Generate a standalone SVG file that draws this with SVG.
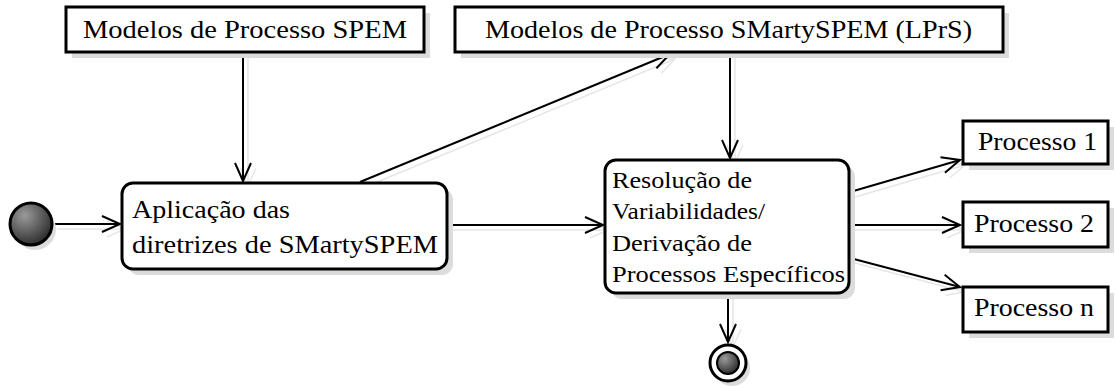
<svg xmlns="http://www.w3.org/2000/svg" width="1115" height="387" viewBox="0 0 1115 387">
<defs>
<style>
.box{fill:#fff;stroke:#000;stroke-width:3}
.sh{fill:#dcdcdc;stroke:none}
.t{font-family:'Liberation Serif','Times New Roman',Times,serif;fill:#000}
.c{fill:none;stroke:#000;stroke-width:2}
.cs{fill:none;stroke:#e6e6e6;stroke-width:1.5}
</style>
<marker id="ah" markerWidth="24" markerHeight="24" refX="20" refY="10" orient="auto" markerUnits="userSpaceOnUse">
<path d="M2,2 L20,10 L2,18" fill="none" stroke="#000" stroke-width="2"/>
</marker>
<marker id="ahs" markerWidth="24" markerHeight="24" refX="20" refY="10" orient="auto" markerUnits="userSpaceOnUse">
<path d="M2,2 L20,10 L2,18" fill="none" stroke="#e6e6e6" stroke-width="1.5"/>
</marker>
<radialGradient id="g" cx="0.35" cy="0.3" r="0.75">
<stop offset="0" stop-color="#9a9a9a"/>
<stop offset="1" stop-color="#2a2a2a"/>
</radialGradient>
</defs>

<g id="connectors">
<g transform="translate(5,5)">
<line class="cs" x1="52" y1="224" x2="120" y2="224" marker-end="url(#ahs)"/>
<line class="cs" x1="243" y1="53" x2="243" y2="181" marker-end="url(#ahs)"/>
<line class="cs" x1="360" y1="182" x2="670" y2="54" marker-end="url(#ahs)"/>
<line class="cs" x1="730" y1="53" x2="730" y2="158" marker-end="url(#ahs)"/>
<line class="cs" x1="448" y1="225" x2="603" y2="225" marker-end="url(#ahs)"/>
<line class="cs" x1="850" y1="192" x2="960" y2="160" marker-end="url(#ahs)"/>
<line class="cs" x1="850" y1="225" x2="960" y2="225" marker-end="url(#ahs)"/>
<line class="cs" x1="850" y1="258" x2="960" y2="287" marker-end="url(#ahs)"/>
<line class="cs" x1="728" y1="294" x2="728" y2="342" marker-end="url(#ahs)"/>
</g>
<line class="c" x1="52" y1="224" x2="120" y2="224" marker-end="url(#ah)"/>
<line class="c" x1="243" y1="53" x2="243" y2="181" marker-end="url(#ah)"/>
<line class="c" x1="360" y1="182" x2="670" y2="54" marker-end="url(#ah)"/>
<line class="c" x1="730" y1="53" x2="730" y2="158" marker-end="url(#ah)"/>
<line class="c" x1="448" y1="225" x2="603" y2="225" marker-end="url(#ah)"/>
<line class="c" x1="850" y1="192" x2="960" y2="160" marker-end="url(#ah)"/>
<line class="c" x1="850" y1="225" x2="960" y2="225" marker-end="url(#ah)"/>
<line class="c" x1="850" y1="258" x2="960" y2="287" marker-end="url(#ah)"/>
<line class="c" x1="728" y1="294" x2="728" y2="342" marker-end="url(#ah)"/>
</g>

<g id="start">
<circle cx="35" cy="229" r="21" fill="#dcdcdc"/>
<circle cx="31" cy="224" r="21" fill="url(#g)" stroke="#000" stroke-width="3"/>
</g>

<g id="spem">
<rect class="sh" x="72" y="13" width="358" height="45"/>
<rect class="box" x="66" y="7" width="358" height="45"/>
<text class="t" x="83" y="38" font-size="26" textLength="324" lengthAdjust="spacingAndGlyphs">Modelos de Processo SPEM</text>
</g>

<g id="smarty">
<rect class="sh" x="461" y="13" width="548" height="45"/>
<rect class="box" x="455" y="7" width="548" height="45"/>
<text class="t" x="485" y="38" font-size="26" textLength="487" lengthAdjust="spacingAndGlyphs">Modelos de Processo SMartySPEM (LPrS)</text>
</g>

<g id="aplicacao">
<rect class="sh" x="128" y="189" width="325" height="86" rx="11"/>
<rect class="box" x="122" y="183" width="325" height="86" rx="11"/>
<text class="t" x="132" y="218" font-size="26" textLength="158" lengthAdjust="spacingAndGlyphs">Aplicação das</text>
<text class="t" x="132" y="253" font-size="26" textLength="306" lengthAdjust="spacingAndGlyphs">diretrizes de SMartySPEM</text>
</g>

<g id="resolucao">
<rect class="sh" x="611" y="166" width="244" height="133" rx="11"/>
<rect class="box" x="605" y="160" width="244" height="133" rx="11"/>
<text class="t" x="612" y="188" font-size="24" textLength="140" lengthAdjust="spacingAndGlyphs">Resolução de</text>
<text class="t" x="612" y="219" font-size="24" textLength="153" lengthAdjust="spacingAndGlyphs">Variabilidades/</text>
<text class="t" x="612" y="251" font-size="24" textLength="140" lengthAdjust="spacingAndGlyphs">Derivação de</text>
<text class="t" x="612" y="282" font-size="24" textLength="233" lengthAdjust="spacingAndGlyphs">Processos Específicos</text>
</g>

<g id="p1">
<rect class="sh" x="969" y="127" width="145" height="43"/>
<rect class="box" x="963" y="121" width="145" height="43"/>
<text class="t" x="978" y="150" font-size="26" textLength="119" lengthAdjust="spacingAndGlyphs">Processo 1</text>
</g>

<g id="p2">
<rect class="sh" x="969" y="208" width="145" height="45"/>
<rect class="box" x="963" y="202" width="145" height="45"/>
<text class="t" x="974" y="232" font-size="26" textLength="120" lengthAdjust="spacingAndGlyphs">Processo 2</text>
</g>

<g id="pn">
<rect class="sh" x="969" y="293" width="145" height="45"/>
<rect class="box" x="963" y="287" width="145" height="45"/>
<text class="t" x="974" y="316" font-size="26" textLength="120" lengthAdjust="spacingAndGlyphs">Processo n</text>
</g>

<g id="end">
<circle cx="732" cy="368" r="18" fill="#dcdcdc"/>
<circle cx="728" cy="363" r="18" fill="#fff" stroke="#000" stroke-width="3"/>
<circle cx="728" cy="363" r="11" fill="url(#g)" stroke="#000" stroke-width="2"/>
</g>
</svg>
